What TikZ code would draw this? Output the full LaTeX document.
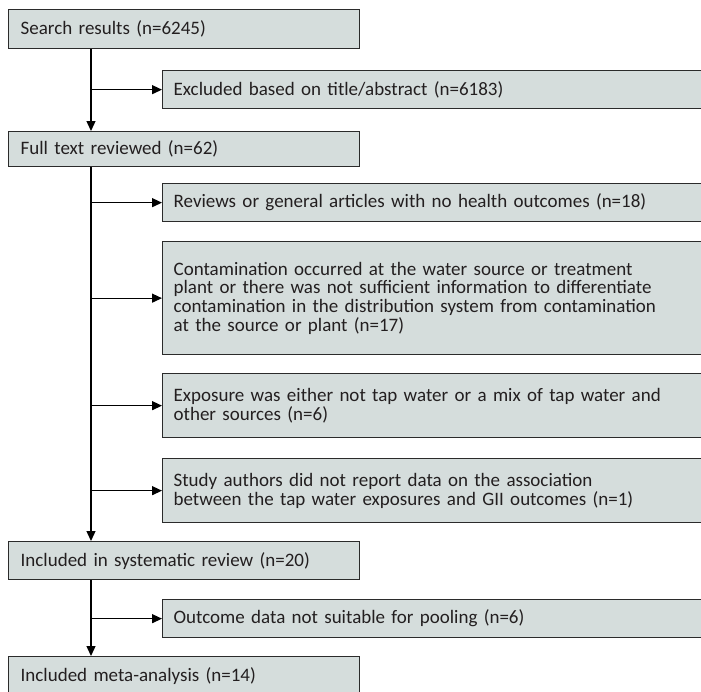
\documentclass[tikz,border=0pt]{standalone}
\usepackage{fontspec}
\setmainfont{Carlito}
\usetikzlibrary{arrows.meta}
\definecolor{boxfill}{HTML}{D5DDDC}
\definecolor{boxline}{HTML}{2B2B2B}
\definecolor{txt}{HTML}{231F20}
\tikzset{
  box/.style={draw=boxline, line width=1.3pt, fill=boxfill, rectangle, anchor=north west,
    inner xsep=12pt, inner ysep=0pt, align=left, text=txt,
    font=\fontsize{19}{18.7}\selectfont},
  leftbox/.style={box, minimum width=351pt, text width=327pt},
  rightbox/.style={box, minimum width=541pt, text width=519pt, inner xsep=11pt},
  arr/.style={draw=black, line width=1.3pt, -{Triangle[length=10pt,width=9pt]}}
}
\begin{document}
\begin{tikzpicture}[x=1pt,y=-1pt]
\useasboundingbox (0,0) rectangle (701,691);
\coordinate (trunk) at (91,0);
\node[leftbox, minimum height=39pt] (search) at (8,9) {Search results (n=6245)};
\node[rightbox, minimum height=38pt] (excl) at (162,70) {Excluded based on title/abstract (n=6183)};
\node[leftbox, minimum height=35pt] (full) at (8,131) {Full text reviewed (n=62)};
\node[rightbox, minimum height=38pt] (rev) at (162,183) {Reviews or general articles with no health outcomes (n=18)};
\node[rightbox, minimum height=113pt] (cont) at (162,241) {Contamination occurred at the water source or treatment\\plant or there was not sufficient information to differentiate\\contamination in the distribution system from contamination\\at the source or plant (n=17)};
\node[rightbox, minimum height=64pt] (expo) at (162,373) {Exposure was either not tap water or a mix of tap water and\\other sources (n=6)};
\node[rightbox, minimum height=64pt] (study) at (162,458) {Study authors did not report data on the association\\between the tap water exposures and GII outcomes (n=1)};
\node[leftbox, minimum height=38pt] (incl) at (8,541) {Included in systematic review (n=20)};
\node[rightbox, minimum height=38pt] (pool) at (162,599) {Outcome data not suitable for pooling (n=6)};
\node[leftbox, minimum height=38pt] (meta) at (8,656) {\raisebox{2pt}{Included meta-analysis (n=14)}};
% trunks
\draw[arr] (search.south -| trunk) -- (full.north -| trunk);
\draw[arr] (full.south -| trunk) -- (incl.north -| trunk);
\draw[arr] (incl.south -| trunk) -- (meta.north -| trunk);
% branches
\draw[arr] (excl.west -| trunk) -- (excl.west);
\draw[arr] (rev.west -| trunk) -- (rev.west);
\draw[arr] (cont.west -| trunk) -- (cont.west);
\draw[arr] (expo.west -| trunk) -- (expo.west);
\draw[arr] (study.west -| trunk) -- (study.west);
\draw[arr] (pool.west -| trunk) -- (pool.west);
\end{tikzpicture}
\end{document}
